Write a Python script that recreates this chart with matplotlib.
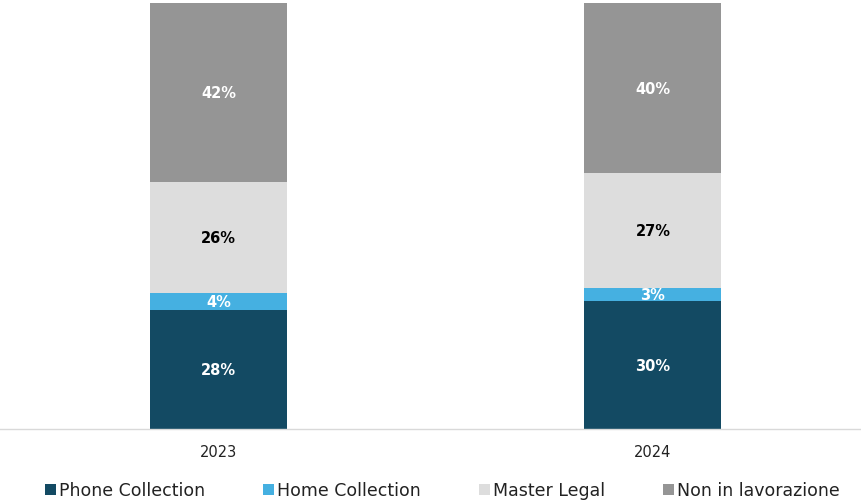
import matplotlib
matplotlib.use("Agg")
import matplotlib.pyplot as plt
from matplotlib.patches import Patch

years = ["2023", "2024"]
series = ["Phone Collection", "Home Collection", "Master Legal", "Non in lavorazione"]
phone = [28, 30]
home = [4, 3]
legal = [26, 27]
non_lav = [42, 40]
values = [phone, home, legal, non_lav]
colors = ["#134A63", "#45B0E1", "#DDDDDD", "#959595"]
label_colors = ["white", "white", "black", "white"]

plt.rcParams["font.family"] = ["DejaVu Sans"]

fig = plt.figure(figsize=(8.61, 5.02), dpi=100)
ax = fig.add_axes([0, 0.1434, 1, 0.8486])

x = list(range(len(years)))
bottom = [0] * len(years)
for vals, col, lc in zip(values, colors, label_colors):
    ax.bar(x, vals, width=0.315, bottom=bottom, color=col, edgecolor="none")
    for xi, b, v in zip(x, bottom, vals):
        ax.text(xi, b + v / 2, f"{v}%", ha="center", va="center",
                color=lc, fontsize=10.5, fontweight="bold")
    bottom = [b + v for b, v in zip(bottom, vals)]

ax.set_xlim(-0.503, 1.479)
ax.set_ylim(0, 100)
ax.set_xticks(x)
ax.set_xticklabels(years, fontsize=10.5, color="#222222")
ax.tick_params(axis="x", length=0, pad=11)
ax.set_yticks([])
for s in ["top", "left", "right"]:
    ax.spines[s].set_visible(False)
ax.spines["bottom"].set_color("#D9D9D9")
ax.spines["bottom"].set_linewidth(1)

handles = [Patch(facecolor=c, edgecolor="none") for c in colors]
fig.legend(handles, series, loc="lower center", bbox_to_anchor=(0.514, -0.028),
           ncol=4, frameon=False, fontsize=12.5, handlelength=0.6,
           handleheight=0.6, handletextpad=0.2, columnspacing=3.35,
           labelcolor="#222222")

fig.savefig("out.png", dpi=100)
